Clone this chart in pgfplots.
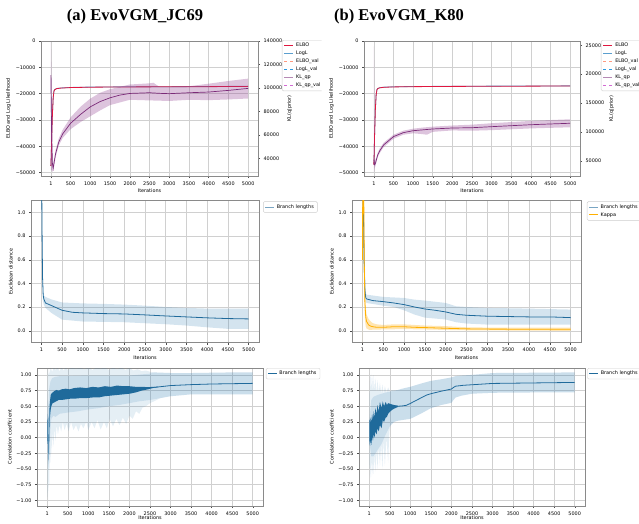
\documentclass[border=0pt]{standalone}
\usepackage{fontspec}
\setmainfont{DejaVu Sans}
\newfontfamily\titlefont{Liberation Serif}
\usepackage{pgfplots}
\pgfplotsset{compat=1.18}

\definecolor{elbored}{HTML}{E0173F}
\definecolor{logblue}{HTML}{5B9FCF}
\definecolor{elboval}{HTML}{FF9A80}
\definecolor{logval}{HTML}{2D9BE0}
\definecolor{klline}{HTML}{7B2A78}
\definecolor{klfill}{HTML}{8E3B8E}
\definecolor{klval}{HTML}{D36BD3}
\definecolor{brline}{HTML}{1F6A9B}
\definecolor{brfill}{HTML}{2A78B0}
\definecolor{kapline}{HTML}{FFB000}
\definecolor{kapfill}{HTML}{FFAA00}
\definecolor{gridc}{HTML}{D0D0D0}
\definecolor{framec}{HTML}{8A8A8A}

\newcommand{\fs}{\fontsize{4.9}{5.8}\selectfont}

\pgfplotsset{
  legend image code/.code={\draw[#1] (0pt,0pt) -- (9pt,0pt);},
  panel/.style={scale only axis, anchor=south west,
    axis line style={framec, line width=0.5pt},
    grid=major, major grid style={gridc, line width=0.5pt},
    tick align=outside, tick pos=left, major tick length=2pt,
    tick style={black!70, line width=0.4pt},
    xmin=-249, xmax=5250, scaled ticks=false,
    xtick={1,500,1000,1500,2000,2500,3000,3500,4000,4500,5000},
    xticklabels={1,500,1000,1500,2000,2500,3000,3500,4000,4500,5000},
    font=\fs, tick label style={font=\fs}, label style={font=\fs},
    xlabel={Iterations}, xlabel style={yshift=3pt},
    ylabel style={yshift=-2pt},
    legend cell align=left,
    legend style={anchor=north west, draw=black!20, rounded corners=1.2pt,
      font=\fs, inner xsep=1.5pt, inner ysep=0.8pt, row sep=-1.2pt},
  },
  twin/.style={scale only axis, anchor=south west,
    xtick=\empty, ytick pos=right, yticklabel pos=right, ylabel near ticks,
    xmin=-249, xmax=5250, scaled ticks=false,
    axis line style={framec, line width=0.5pt},
    tick align=outside, major tick length=2pt,
    tick style={black!70, line width=0.4pt},
    font=\fs, tick label style={font=\fs}, label style={font=\fs},
    ylabel={KL(q\textbar prior)}, ylabel style={yshift=2pt},
    legend cell align=left,
    legend style={anchor=north west, draw=black!20, rounded corners=1.2pt,
      font=\fs, inner xsep=1.5pt, inner ysep=0.8pt, row sep=-1.2pt},
  },
  band/.style={draw=none, fill=#1, forget plot},
}

\begin{document}
\begin{tikzpicture}

\node[font=\titlefont\bfseries\fontsize{16.5}{18}\selectfont] at (135pt,506pt) {(a) EvoVGM\textunderscore JC69};
\node[font=\titlefont\bfseries\fontsize{16.5}{18}\selectfont] at (399pt,506pt) {(b) EvoVGM\textunderscore K80};

% ---------------- left column (JC69) ----------------
\begin{scope}
\clip (0pt,0pt) rectangle (321.5pt,523pt);

% row 1: ELBO / LogL and KL
\begin{axis}[panel, at={(41pt,347pt)}, width=217pt, height=135pt,
  ymin=-51300, ymax=0,
  ytick={-50000,-40000,-30000,-20000,-10000,0},
  yticklabels={−50000,−40000,−30000,−20000,−10000,0},
  ylabel={ELBO and Log Likelihood}]
\addplot[logblue, line width=0.8pt] coordinates {
(1,-47450) (10,-43950) (20,-37950) (40,-27950) (60,-21450) (80,-18950) (100,-18450)
(150,-18050) (250,-17850) (500,-17650) (1000,-17500) (2000,-17400) (3000,-17350)
(4000,-17300) (5000,-17200)};
\addplot[elbored, line width=0.8pt] coordinates {
(1,-47500) (10,-44000) (20,-38000) (40,-28000) (60,-21500) (80,-19000) (100,-18500)
(150,-18100) (250,-17900) (500,-17700) (1000,-17550) (2000,-17450) (3000,-17400)
(4000,-17350) (5000,-17250)};
\end{axis}
\begin{axis}[twin, at={(41pt,347pt)}, width=217pt, height=135pt,
  ymin=25200, ymax=140000,
  ytick={40000,60000,80000,100000,120000,140000},
  yticklabels={40000,60000,80000,100000,120000,140000},
  legend style={at={(1.11,1.007)}}]
\addlegendimage{elbored, line width=0.8pt}\addlegendentry{ELBO}
\addlegendimage{logblue, line width=0.8pt}\addlegendentry{LogL}
\addlegendimage{elboval, dashed, line width=0.6pt}\addlegendentry{ELBO\textunderscore val}
\addlegendimage{logval, dashed, line width=0.6pt}\addlegendentry{LogL\textunderscore val}
\addlegendimage{klline!55, line width=1.6pt}\addlegendentry{KL\textunderscore qp}
\addlegendimage{klval, dashed, line width=0.6pt}\addlegendentry{KL\textunderscore qp\textunderscore val}
% band: upper edge, then lower edge backwards
\addplot[band=klfill, fill opacity=0.3] coordinates {
(1,139000) (15,115000) (30,60000) (50,35000) (80,39000) (120,47000) (200,57000)
(300,64500) (500,75000) (750,84000) (1000,91000) (1250,96000) (1500,99000)
(2000,103000) (2500,104000) (2600,104500) (2750,101000) (3000,100800) (3500,101500)
(4000,103700) (4500,106000) (5000,108000)
(5000,91100) (4500,90300) (4000,89700) (3500,90000) (3000,89000) (2500,89500)
(2000,90000) (1500,85500) (1250,81000) (1000,76000) (750,71000) (500,65000)
(300,57500) (200,51000) (120,41000) (80,33000) (50,28500) (30,30000) (15,30000)
(1,30000)};
\addplot[klline, line width=0.7pt, forget plot] coordinates {
(1,111000) (20,62000) (40,36000) (60,31500) (80,36000) (120,44000) (200,54000)
(300,61000) (500,70000) (750,77500) (1000,84000) (1250,88500) (1500,91700)
(1750,94000) (2000,95400) (2500,96000) (2750,95500) (3000,95200) (3500,96000)
(4000,96600) (4500,98000) (5000,99700)};
\end{axis}

% row 2: Euclidean distance
\begin{axis}[panel, at={(31pt,180.3pt)}, width=228pt, height=142pt,
  ymin=-0.1, ymax=1.1, ytick={0,0.2,0.4,0.6,0.8,1.0},
  yticklabels={0.0,0.2,0.4,0.6,0.8,1.0},
  ylabel={Euclidean distance},
  legend style={at={(1.018,0.995)}}]
\addlegendimage{brline!60, line width=1pt}\addlegendentry{Branch lengths}
\addplot[band=brfill, fill opacity=0.2] coordinates {
(1,1.8) (20,0.9) (40,0.4) (60,0.3) (100,0.287) (250,0.265) (500,0.24) (1000,0.232)
(1500,0.228) (2000,0.222) (2500,0.213) (3000,0.202) (3500,0.194) (4000,0.188)
(5000,0.188)
(5000,0.017) (4500,0.017) (4000,0.03) (3500,0.045) (3000,0.056) (2000,0.073)
(1000,0.079) (500,0.095) (250,0.15) (100,0.194) (60,0.22) (40,0.25) (20,0.6) (1,1.4)};
\addplot[brline, line width=0.8pt, forget plot] coordinates {
(1,1.6) (10,1.2) (20,0.75) (30,0.45) (45,0.3) (60,0.27) (100,0.236) (250,0.213)
(500,0.174) (750,0.157) (1000,0.152) (1500,0.146) (2000,0.143) (2500,0.135)
(3000,0.126) (3500,0.118) (4000,0.11) (4500,0.104) (5000,0.101)};
\end{axis}

% row 3: correlation coefficient
\begin{axis}[panel, at={(37pt,17pt)}, width=226pt, height=138pt,
  xlabel style={yshift=1pt, inner sep=0.5pt},
  ymin=-1.09, ymax=1.11, ytick={-1,-0.75,-0.5,-0.25,0,0.25,0.5,0.75,1},
  yticklabels={−1.00,−0.75,−0.50,−0.25,0.00,0.25,0.50,0.75,1.00},
  ylabel={Correlation coefficient},
  legend style={at={(1.013,1.0)}}]
\addlegendimage{brline, line width=0.8pt}\addlegendentry{Branch lengths}
% outer spread
\addplot[band=brfill, fill opacity=0.12] coordinates {
(1,0.2) (10,1.12) (25,0.95) (40,1.12) (60,1.0) (80,1.12) (120,1.05) (160,1.12)
(200,1.08) (250,1.12) (300,1.06) (350,1.12) (400,1.07) (450,1.12) (500,1.08)
(600,1.12) (700,1.1) (800,1.12) (900,1.09) (1000,1.12) (1100,1.08) (1200,1.12)
(1300,1.1) (1400,1.12) (1500,1.08) (1600,1.12) (1700,1.09) (1800,1.12) (1900,1.08)
(2000,1.11) (2100,1.07) (2200,1.09) (2300,1.06) (2400,1.07) (2500,1.05) (2600,1.04)
(2800,1.035) (3000,1.03) (3500,1.03) (4000,1.035) (4500,1.04) (5000,1.04)
(5000,0.69) (4500,0.69) (4000,0.69) (3500,0.69) (3000,0.66) (2750,0.63) (2600,0.58)
(2500,0.55) (2400,0.5) (2320,0.48) (2240,0.38) (2160,0.42) (2080,0.3) (2000,0.35)
(1920,0.22) (1840,0.32) (1760,0.2) (1680,0.3) (1600,0.18) (1520,0.3) (1450,0.15)
(1380,0.25) (1300,0.13) (1220,0.28) (1150,0.15) (1080,0.25) (1000,0.12) (950,0.25)
(880,0.15) (820,0.22) (760,0.1) (700,0.2) (640,0.12) (580,0.25) (520,0.1) (470,0.22)
(420,0.12) (380,0.25) (340,0.1) (300,0.2) (260,0.05) (230,0.2) (200,-0.05)
(175,0.15) (150,-0.15) (130,0.1) (110,-0.25) (95,-0.05) (80,-0.4) (65,-0.2)
(55,-0.75) (45,-0.3) (36,-0.85) (28,-0.5) (20,-1.02) (12,-0.6) (5,-0.95) (1,-0.1)};
% inner spread
\addplot[band=brfill, fill opacity=0.14] coordinates {
(1,0.0) (10,0.6) (30,0.5) (50,0.8) (80,0.9) (120,0.95) (200,0.97) (300,0.98)
(500,0.98) (1000,0.99) (1500,0.99) (2000,0.99) (2500,1.02) (2600,1.04) (2800,1.035)
(3000,1.03) (3500,1.03) (4000,1.035) (4500,1.04) (5000,1.04)
(5000,0.69) (4500,0.69) (4000,0.69) (3500,0.69) (3000,0.66) (2750,0.63) (2500,0.6)
(2250,0.58) (2000,0.55) (1750,0.52) (1500,0.5) (1250,0.47) (1000,0.45) (750,0.42)
(500,0.4) (300,0.38) (200,0.33) (150,0.35) (100,0.3) (80,0.15) (60,-0.1) (40,-0.4)
(25,-0.5) (10,-0.3) (1,-0.1)};
% oscillating mean
\addplot[band=brline] coordinates {
(1,0.0) (8,0.38) (16,0.2) (24,0.35) (32,0.0) (40,-0.2) (48,0.2) (56,0.5) (70,0.6)
(85,0.68) (100,0.7) (130,0.72) (170,0.74) (220,0.76) (280,0.75) (350,0.77)
(450,0.78) (550,0.77) (650,0.79) (800,0.8) (950,0.79) (1100,0.81) (1250,0.8)
(1400,0.82) (1550,0.81) (1700,0.83) (1850,0.82) (2000,0.82) (2150,0.81) (2300,0.81)
(2450,0.805) (2600,0.81) (2700,0.812)
(2700,0.804) (2600,0.795) (2450,0.77) (2300,0.75) (2150,0.72) (2000,0.70)
(1850,0.69) (1700,0.68) (1550,0.67) (1400,0.66) (1250,0.64) (1100,0.64) (950,0.63)
(800,0.63) (650,0.62) (550,0.62) (450,0.61) (350,0.6) (280,0.6) (220,0.58)
(170,0.56) (130,0.55) (100,0.5) (85,0.45) (70,0.35) (56,0.2) (48,-0.1) (40,-0.38)
(32,-0.3) (24,0.05) (16,-0.1) (8,0.0) (1,-0.1)};
\addplot[brline, line width=0.8pt, forget plot] coordinates {
(2600,0.802) (2700,0.808) (3000,0.83) (3500,0.845) (4000,0.855) (4500,0.86)
(5000,0.865)};
\end{axis}
\end{scope}

% ---------------- right column (K80) ----------------
\begin{scope}
\clip (321.5pt,0pt) rectangle (639pt,523pt);

\begin{axis}[panel, at={(364pt,347pt)}, width=216pt, height=135pt,
  ymin=-51300, ymax=0,
  ytick={-50000,-40000,-30000,-20000,-10000,0},
  yticklabels={−50000,−40000,−30000,−20000,−10000,0},
  ylabel={ELBO and Log Likelihood}]
\addplot[logblue, line width=0.8pt] coordinates {
(1,-46950) (10,-42950) (20,-35950) (40,-25950) (60,-20450) (80,-18450) (100,-18050)
(150,-17750) (250,-17550) (500,-17400) (1000,-17300) (2000,-17200) (3000,-17150)
(4000,-17100) (5000,-17050)};
\addplot[elbored, line width=0.8pt] coordinates {
(1,-47000) (10,-43000) (20,-36000) (40,-26000) (60,-20500) (80,-18500) (100,-18100)
(150,-17800) (250,-17600) (500,-17450) (1000,-17350) (2000,-17250) (3000,-17200)
(4000,-17150) (5000,-17100)};
\end{axis}
\begin{axis}[twin, at={(364pt,347pt)}, width=216pt, height=135pt,
  ymin=23500, ymax=257500,
  ytick={50000,100000,150000,200000,250000},
  yticklabels={50000,100000,150000,200000,250000},
  legend style={at={(1.097,1.007)}}]
\addlegendimage{elbored, line width=0.8pt}\addlegendentry{ELBO}
\addlegendimage{logblue, line width=0.8pt}\addlegendentry{LogL}
\addlegendimage{elboval, dashed, line width=0.6pt}\addlegendentry{ELBO\textunderscore val}
\addlegendimage{logval, dashed, line width=0.6pt}\addlegendentry{LogL\textunderscore val}
\addlegendimage{klline!55, line width=1.6pt}\addlegendentry{KL\textunderscore qp}
\addlegendimage{klval, dashed, line width=0.6pt}\addlegendentry{KL\textunderscore qp\textunderscore val}
\addplot[band=klfill, fill opacity=0.3] coordinates {
(1,248000) (10,200000) (20,60000) (40,50000) (60,54000) (100,64000) (150,71000)
(250,81000) (500,95000) (750,102000) (1000,105500) (1250,107500) (1500,109000)
(2000,111000) (2500,112500) (3000,115000) (3500,117000) (4000,119000)
(4500,120500) (5000,121800)
(5000,107900) (4500,107000) (4000,106000) (3500,104500) (3000,103000)
(2500,102000) (2000,102500) (1500,100000) (1350,95000) (1250,96000) (1000,97500)
(750,95000) (500,88000) (250,73500) (150,63000) (100,56000) (60,46000) (40,40000)
(20,38000) (10,32000) (1,30000)};
\addplot[klline, line width=0.7pt, forget plot] coordinates {
(1,52000) (20,43000) (40,45000) (60,50000) (100,60000) (150,67000) (250,77300)
(500,91700) (750,98600) (1000,102000) (1250,103500) (1500,105000) (2000,106700)
(2500,107200) (3000,109000) (3500,110700) (4000,112400) (4500,113700)
(5000,114900)};
\end{axis}

\begin{axis}[panel, at={(352pt,180.3pt)}, width=229pt, height=142pt,
  ymin=-0.1, ymax=1.1, ytick={0,0.2,0.4,0.6,0.8,1.0},
  yticklabels={0.0,0.2,0.4,0.6,0.8,1.0},
  ylabel={Euclidean distance},
  legend style={at={(1.026,0.995)}}]
\addlegendimage{brline!60, line width=1pt}\addlegendentry{Branch lengths}
\addlegendimage{kapline, line width=1pt}\addlegendentry{Kappa}
\addplot[band=brfill, fill opacity=0.2] coordinates {
(1,2.0) (40,0.8) (80,0.32) (100,0.306) (500,0.287) (1000,0.278) (1250,0.264)
(1500,0.256) (2000,0.236) (2250,0.208) (2500,0.202) (3000,0.194) (4000,0.188)
(5000,0.18)
(5000,0.053) (3000,0.053) (2500,0.062) (2250,0.073) (2000,0.096) (1500,0.112)
(1250,0.138) (1000,0.174) (750,0.202) (500,0.213) (100,0.236) (80,0.25) (40,0.4)
(1,1.5)};
\addplot[brline, line width=0.8pt, forget plot] coordinates {
(1,1.8) (20,1.2) (40,0.6) (60,0.35) (80,0.28) (100,0.27) (250,0.256) (500,0.247)
(750,0.236) (1000,0.222) (1250,0.202) (1500,0.185) (1750,0.174) (2000,0.16)
(2250,0.14) (2500,0.132) (3000,0.124) (3500,0.121) (4000,0.118) (4500,0.118)
(5000,0.112)};
\addplot[band=kapfill, fill opacity=0.3] coordinates {
(1,0.96) (5,1.2) (15,2) (30,1.8) (45,0.9) (60,0.4) (80,0.2) (100,0.14) (150,0.1)
(200,0.08) (250,0.065) (350,0.055) (500,0.05) (750,0.055) (1000,0.055) (1500,0.045)
(2000,0.04) (2500,0.03) (3000,0.028) (5000,0.028)
(5000,0.0) (2500,0.005) (2000,0.008) (1500,0.012) (1000,0.015) (500,0.012)
(250,0.01) (200,0.008) (150,0.01) (100,0.02) (80,0.04) (60,0.1) (45,0.3) (30,0.8)
(15,1.0) (5,0.5) (1,-0.1)};
\addplot[kapline, line width=0.8pt, forget plot] coordinates {
(1,0.6) (5,0.96) (15,1.5) (30,1.3) (45,0.6) (60,0.25) (80,0.12) (100,0.08) (150,0.05)
(200,0.04) (250,0.035) (350,0.03) (500,0.03) (750,0.035) (1000,0.035) (1250,0.03)
(1500,0.028) (2000,0.022) (2500,0.017) (3000,0.015) (4000,0.014) (5000,0.013)};
\end{axis}

\begin{axis}[panel, at={(359pt,17pt)}, width=226pt, height=138pt,
  xlabel style={yshift=1pt, inner sep=0.5pt},
  ymin=-1.09, ymax=1.11, ytick={-1,-0.75,-0.5,-0.25,0,0.25,0.5,0.75,1},
  yticklabels={−1.00,−0.75,−0.50,−0.25,0.00,0.25,0.50,0.75,1.00},
  ylabel={Correlation coefficient},
  legend style={at={(1.01,1.0)}}]
\addlegendimage{brline, line width=0.8pt}\addlegendentry{Branch lengths}
\addplot[band=brfill, fill opacity=0.12] coordinates {
(1,0.3) (8,0.9) (16,0.55) (24,1.0) (32,0.7) (45,1.02) (60,0.75) (75,0.98) (90,0.7)
(110,1.0) (130,0.75) (150,0.95) (175,0.7) (200,0.92) (230,0.72) (260,0.88)
(290,0.7) (320,0.85) (350,0.7) (380,0.82) (420,0.72) (460,0.8) (500,0.74)
(550,0.76) (600,0.75) (700,0.76) (800,0.78) (1000,0.81) (1250,0.86) (1500,0.905)
(1750,0.93) (2000,0.96) (2100,0.98) (2250,0.99) (2500,1.0) (3000,1.03)
(4000,1.035) (5000,1.04)
(5000,0.72) (4000,0.72) (3000,0.715) (2500,0.7) (2250,0.67) (2100,0.64) (2050,0.6)
(2000,0.555) (1750,0.52) (1500,0.47) (1250,0.38) (1000,0.3) (800,0.28) (700,0.27)
(600,0.25) (560,0.22) (520,0.2) (490,0.1) (460,-0.4) (420,0.0) (380,-0.45)
(350,-0.05) (320,-0.5) (290,-0.1) (260,-0.45) (230,-0.15) (200,-0.5) (175,-0.2)
(150,-0.55) (130,-0.25) (110,-0.58) (90,-0.35) (75,-0.6) (60,-0.3) (45,-0.62)
(32,-0.4) (24,-0.65) (16,-0.3) (8,-0.6) (1,-0.1)};
\addplot[band=brfill, fill opacity=0.14] coordinates {
(1,0.25) (50,0.6) (100,0.65) (200,0.68) (300,0.7) (400,0.72) (500,0.73) (600,0.75)
(700,0.76) (800,0.78) (1000,0.81) (1250,0.86) (1500,0.905) (1750,0.93) (2000,0.96)
(2100,0.98) (2250,0.99) (2500,1.0) (3000,1.03) (4000,1.035) (5000,1.04)
(5000,0.72) (4000,0.72) (3000,0.715) (2500,0.7) (2250,0.67) (2100,0.64) (2050,0.6)
(2000,0.555) (1750,0.52) (1500,0.47) (1250,0.38) (1000,0.3) (800,0.28) (700,0.27)
(600,0.25) (500,0.18) (400,0.05) (300,-0.1) (200,-0.2) (100,-0.3) (50,-0.3)
(1,-0.05)};
\addplot[band=brline] coordinates {
(1,0.25) (10,0.3) (20,0.2) (30,0.32) (50,0.25) (70,0.38) (90,0.28) (110,0.42)
(130,0.32) (150,0.47) (180,0.38) (200,0.52) (230,0.42) (260,0.57) (300,0.47)
(330,0.58) (360,0.5) (400,0.57) (430,0.52) (460,0.55) (500,0.54) (550,0.53)
(600,0.52) (650,0.515) (700,0.51)
(700,0.49) (650,0.475) (600,0.46) (550,0.44) (500,0.41) (460,0.38) (430,0.33)
(400,0.32) (360,0.25) (330,0.28) (300,0.15) (260,0.2) (230,0.1) (200,0.15)
(180,0.05) (150,0.1) (130,0.0) (110,0.06) (90,-0.05) (70,0.02) (50,-0.12)
(30,-0.03) (20,-0.13) (10,-0.1) (1,0.0)};
\addplot[brline, line width=0.8pt, forget plot] coordinates {
(690,0.50) (800,0.505) (900,0.515) (1000,0.545) (1100,0.58) (1250,0.63)
(1400,0.68) (1500,0.70) (1750,0.74) (2000,0.775) (2050,0.80) (2100,0.82)
(2300,0.835) (2500,0.843) (3000,0.864) (4000,0.872) (5000,0.88)};
\end{axis}
\end{scope}

\pgfresetboundingbox
\path[use as bounding box] (0pt,0pt) rectangle (639pt,523pt);
\end{tikzpicture}
\end{document}
